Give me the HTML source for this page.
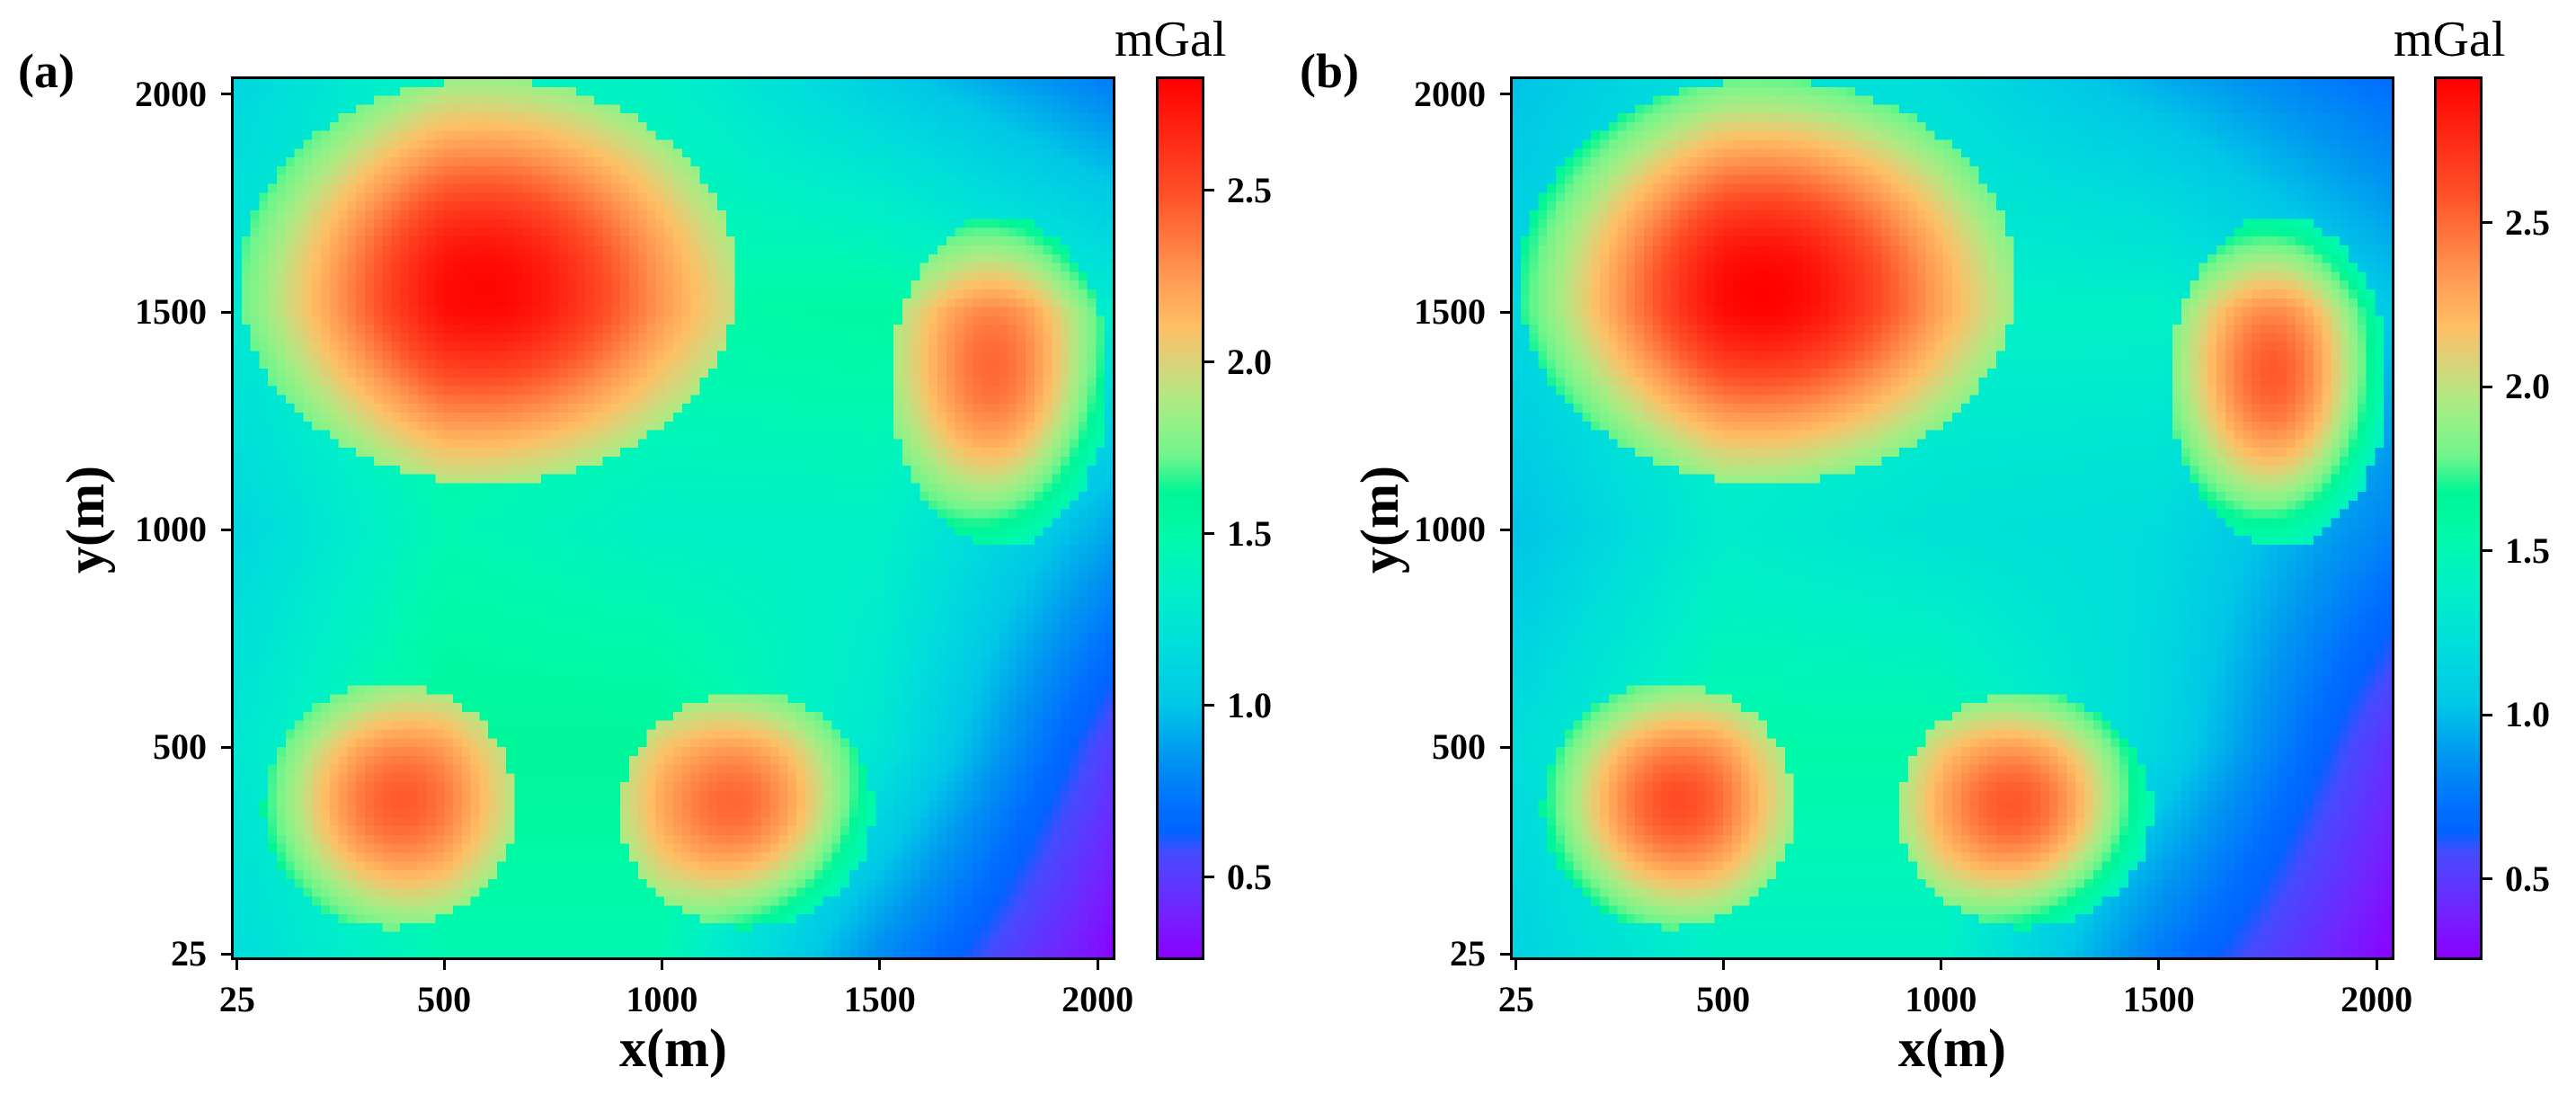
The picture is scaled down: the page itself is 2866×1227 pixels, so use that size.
<!DOCTYPE html>
<html><head><meta charset="utf-8">
<style>
body{margin:0;background:#fff;}
#root{position:relative;width:2866px;height:1227px;overflow:hidden;font-family:"Liberation Serif",serif;}
canvas{position:absolute;image-rendering:pixelated;}
.frame{position:absolute;border:3px solid #000;box-sizing:border-box;}
.t{position:absolute;font-weight:bold;font-size:40px;color:#000;white-space:nowrap;line-height:1;}
.tick{position:absolute;background:#000;}
</style></head>
<body>
<div id="root"></div>
<script>
// ---- data ----
const xTicks=[25,500,1000,1500,2000];
const yTicks=[25,500,1000,1500,2000];
const cbTicks=[0.5,1.0,1.5,2.0,2.5];
const domain=[15,2037];
// background control grid (values, mGal) at bgX (cols) x bgY (rows, bottom->top)
const bgX=[0,500,1000,1500,2040];
const bgY=[0,500,1000,1500,2040];
const bgA=[[1.15,1.45,1.45,0.8,0.27],[1.25,1.6,1.6,1.25,0.5],[1.1,1.45,1.35,1.35,0.9],[1.25,1.55,1.5,1.55,1.3],[1.1,1.4,1.35,1.05,0.75]];
const bgB=[[1.1,1.4,1.4,0.75,0.26],[1.2,1.55,1.55,1.15,0.45],[1.0,1.35,1.25,1.2,0.8],[1.15,1.45,1.4,1.4,1.05],[1.0,1.25,1.2,0.95,0.7]];
// anomaly bodies: center x, center y, radius x, radius y, peak value
const bodyCX=[600,1775,375,1195];
const bodyCY=[1570,1340,365,355];
const bodyRX=[570,250,290,290];
const bodyRY=[465,380,280,270];
const peakA=[2.8,2.4,2.45,2.4];
const peakB=[2.93,2.55,2.6,2.55];
const cbRangeA=[0.264,2.827];
const cbRangeB=[0.259,2.94];
</script>
<script>
const root=document.getElementById('root');
const cmap=[[0,140,0,255],[0.06,110,40,255],[0.12,70,75,255],[0.145,0,100,255],[0.17,0,110,255],[0.23,0,150,240],[0.29,0,200,230],[0.35,0,220,220],[0.42,0,240,200],[0.48,0,250,170],[0.53,0,245,150],[0.57,110,245,140],[0.6,140,242,136],[0.64,180,232,130],[0.68,220,210,120],[0.72,255,190,100],[0.78,255,150,80],[0.87,255,80,40],[1,255,0,0]];
function rainbow(t){t=Math.max(0,Math.min(1,t));
 let i=0;while(i<cmap.length-2&&t>cmap[i+1][0])i++;
 const a=cmap[i],b=cmap[i+1],f=(t-a[0])/(b[0]-a[0]);
 return `rgb(${Math.round(a[1]+(b[1]-a[1])*f)},${Math.round(a[2]+(b[2]-a[2])*f)},${Math.round(a[3]+(b[3]-a[3])*f)})`;}
function bgVal(grid,x,y){
 let i=0;while(i<bgX.length-2&&x>bgX[i+1])i++;
 let j=0;while(j<bgY.length-2&&y>bgY[j+1])j++;
 const fx=Math.max(0,Math.min(1,(x-bgX[i])/(bgX[i+1]-bgX[i]))),fy=Math.max(0,Math.min(1,(y-bgY[j])/(bgY[j+1]-bgY[j])));
 const a=grid[j][i]*(1-fx)+grid[j][i+1]*fx,b=grid[j+1][i]*(1-fx)+grid[j+1][i+1]*fx;
 return a*(1-fy)+b*fy;}
function field(grid,peaks,x,y){
 const base=bgVal(grid,x,y);let v=base;
 for(let k=0;k<bodyCX.length;k++){
  const u=(x-bodyCX[k])/bodyRX[k],w=(y-bodyCY[k])/bodyRY[k];const d2=u*u+w*w;
  if(d2<1){const bb=bgVal(grid,bodyCX[k],bodyCY[k]);const val=base+(peaks[k]-bb)*Math.exp(-0.5*d2*2.1);if(val>v)v=val;}
 }return v;}
function el(tag,cls,name,css,txt){const e=document.createElement(tag);if(cls)e.className=cls;
 
 
 Object.assign(e.style,css);if(txt!==undefined)e.textContent=txt;root.appendChild(e);return e;}
function panel(o){
 const L=o.left,T=87,W=980,H=979;
 const sx=v=>L+(v-domain[0])/(domain[1]-domain[0])*W;
 const sy=v=>T+H-(v-domain[0])/(domain[1]-domain[0])*H;
 const n=o.cells;const c=el('canvas','',o.id+'-heatmap',{left:L+'px',top:T+'px',width:W+'px',height:H+'px'});
 c.width=n;c.height=n;const ctx=c.getContext('2d');
 for(let i=0;i<n;i++)for(let j=0;j<n;j++){
  const x=domain[0]+(i+0.5)*(domain[1]-domain[0])/n,y=domain[1]-(j+0.5)*(domain[1]-domain[0])/n;
  const v=field(o.bg,o.peaks,x,y);ctx.fillStyle=rainbow((v-o.cb[0])/(o.cb[1]-o.cb[0]));ctx.fillRect(i,j,1,1);}
 el('div','frame',o.id+'-plot-frame',{left:(L-2)+'px',top:(T-2)+'px',width:(W+4)+'px',height:(H+4)+'px'});
 xTicks.forEach(v=>{const x=sx(v);
  el('div','tick',o.id+'-x-tick',{left:(x-1.5)+'px',top:(T+H+2)+'px',width:'3px',height:'11px'});
  el('div','t',o.id+'-x-tick-label',{left:(x-60)+'px',width:'120px',textAlign:'center',top:(1092)+'px'},String(v));});
 yTicks.forEach(v=>{const y=sy(v);
  el('div','tick',o.id+'-y-tick',{left:(L-13)+'px',top:(y-1.5)+'px',width:'11px',height:'3px'});
  el('div','t',o.id+'-y-tick-label',{left:(L-150)+'px',width:'121px',textAlign:'right',top:(y-20)+'px'},String(v));});
 el('div','t',o.id+'-x-axis-title',{left:(L+W/2-100)+'px',width:'200px',textAlign:'center',top:'1136px',fontSize:'60px'},'x(m)');
 el('div','t',o.id+'-y-axis-title',{left:(o.ylx-100)+'px',width:'200px',textAlign:'center',top:'548px',fontSize:'60px',transform:'rotate(-90deg)'},'y(m)');
 el('div','t',o.id+'-panel-label',{left:o.lab+'px',top:'52px',fontSize:'54px'},o.label);
 // colorbar
 const CL=o.cbl,CW=50;const cb=el('canvas','',o.id+'-colorbar',{left:CL+'px',top:T+'px',width:CW+'px',height:H+'px'});
 cb.width=1;cb.height=H;const c2=cb.getContext('2d');
 for(let j=0;j<H;j++){c2.fillStyle=rainbow(1-j/H);c2.fillRect(0,j,1,1);}
 el('div','frame',o.id+'-colorbar-frame',{left:(CL-2)+'px',top:(T-2)+'px',width:(CW+4)+'px',height:(H+4)+'px'});
 const cy=v=>T+H-(v-o.cb[0])/(o.cb[1]-o.cb[0])*H;
 cbTicks.forEach(v=>{const y=cy(v);
  el('div','tick',o.id+'-colorbar-tick',{left:(CL+CW+2)+'px',top:(y-1.5)+'px',width:'11px',height:'3px'});
  el('div','t',o.id+'-colorbar-tick-label',{left:(CL+CW+27)+'px',top:(y-20)+'px'},v.toFixed(1));});
 el('div','t',o.id+'-colorbar-unit',{left:o.unit+'px',top:'16px',fontSize:'56px',fontWeight:'normal'},'mGal');
}
panel({id:'panel-a',left:259,cells:100,bg:bgA,peaks:peakA,cb:cbRangeA,cbl:1288,label:'(a)',lab:20,unit:1240,ylx:95});
panel({id:'panel-b',left:1682,cells:100,bg:bgB,peaks:peakB,cb:cbRangeB,cbl:2710,label:'(b)',lab:1446,unit:2663,ylx:1535});
</script>
</body></html>
